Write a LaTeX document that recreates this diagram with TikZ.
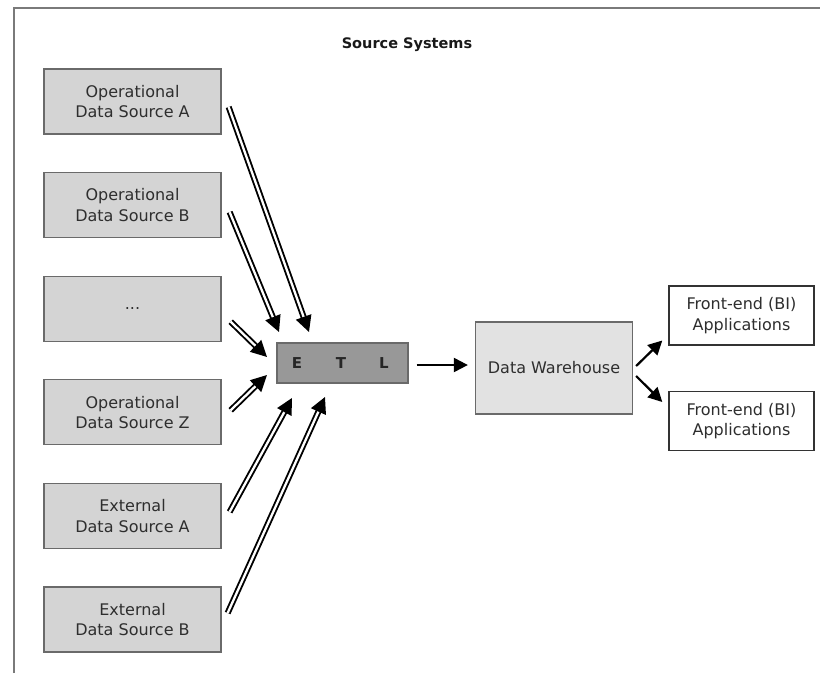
\documentclass[tikz,border=0pt]{standalone}
\usepackage{fontspec}
\setmainfont{DejaVu Sans}
\usetikzlibrary{arrows.meta,calc}
\definecolor{boxgray}{HTML}{D4D4D4}
\definecolor{etlgray}{HTML}{989898}
\definecolor{dwgray}{HTML}{E2E2E2}
\definecolor{edgegray}{HTML}{6A6A6A}
\definecolor{txt}{HTML}{2E2E2E}
\definecolor{framegray}{HTML}{7A7A7A}
\begin{document}
\begin{tikzpicture}[x=1pt,y=-1pt,
  srcbox/.style={draw=edgegray,line width=1.3pt,fill=boxgray,minimum width=177pt,minimum height=65pt,
    align=center,text=txt,font=\fontsize{16}{20.5}\selectfont,inner sep=0pt},
  etlbox/.style={draw=edgegray,line width=1.3pt,fill=etlgray,minimum width=131pt,minimum height=40pt,inner sep=0pt},
  dwbox/.style={draw=edgegray,line width=1.3pt,fill=dwgray,minimum width=157pt,minimum height=92pt,
    align=center,text=txt,font=\fontsize{16}{20.5}\selectfont,inner sep=0pt},
  febox/.style={draw=black!80,line width=1.4pt,fill=white,minimum width=145pt,minimum height=59pt,
    align=center,text=txt,font=\fontsize{16}{20.5}\selectfont,inner sep=0pt},
  dblarrow/.style={draw=black,double=white,line width=1.9pt,double distance=2.3pt,
    -{Triangle[length=16pt,width=16pt]}},
  onearrow/.style={draw=black,line width=2.2pt,-{Triangle[length=14pt,width=14pt]}},
  letter/.style={font=\bfseries\fontsize{15}{15}\selectfont,text=black!85}
]
\useasboundingbox (0,0) rectangle (820,673);
\draw[framegray,line width=2pt] (14,673) -- (14,8) -- (820,8);

\node[font=\bfseries\fontsize{14.5}{16}\selectfont,text=black!90] (title) at (407,45) {Source Systems};

\node[srcbox] (opA) at (132.5,101.5) {Operational\\Data Source A};
\node[srcbox] (opB) at (132.5,205.1) {Operational\\Data Source B};
\node[srcbox] (dots) at (132.5,308.7) {...};
\node[srcbox] (opZ) at (132.5,412.3) {Operational\\Data Source Z};
\node[srcbox] (exA) at (132.5,515.9) {External\\Data Source A};
\node[srcbox] (exB) at (132.5,619.5) {External\\Data Source B};

\node[etlbox] (etl) at (342.5,363) {};
\node[letter] (lE) at (297,363) {E};
\node[letter] (lT) at (341,363) {T};
\node[letter] (lL) at (384,363) {L};

\node[dwbox] (dw) at (554,368) {Data Warehouse};
\node[febox] (fe1) at (741.5,315.5) {Front-end (BI)\\Applications};
\node[febox] (fe2) at (741.5,421) {Front-end (BI)\\Applications};

% start and tip coordinates of the double arrows
\coordinate (sA) at ($(opA.east)+(7,5.5)$);
\coordinate (tA) at (309,332);
\coordinate (sB) at ($(opB.east)+(8,7)$);
\coordinate (tB) at (279,332);
\coordinate (sD) at ($(dots.east)+(9,13)$);
\coordinate (tD) at (267,357);
\coordinate (sZ) at ($(opZ.east)+(9,-2)$);
\coordinate (tZ) at (267,375);
\coordinate (sEA) at ($(exA.east)+(8,-4)$);
\coordinate (tEA) at (292,398);
\coordinate (sEB) at ($(exB.east)+(6,-6.5)$);
\coordinate (tEB) at (325,397);

\draw[dblarrow] (sA) -- (tA);
\draw[dblarrow] (sB) -- (tB);
\draw[dblarrow] (sD) -- (tD);
\draw[dblarrow] (sZ) -- (tZ);
\draw[dblarrow] (sEA) -- (tEA);
\draw[dblarrow] (sEB) -- (tEB);

\draw[onearrow,shorten <=8pt,shorten >=7pt] (etl.east |- 0,365) coordinate (e1) -- (dw.west |- 0,365);
\coordinate (d1) at ($(dw.east)+(3,-2)$);
\coordinate (d2) at ($(dw.east)+(3,8)$);
\draw[onearrow] (d1) -- ($(fe1.west)+(-6,25)$);
\draw[onearrow] (d2) -- ($(fe2.west)+(-6,-19)$);
\end{tikzpicture}
\end{document}
